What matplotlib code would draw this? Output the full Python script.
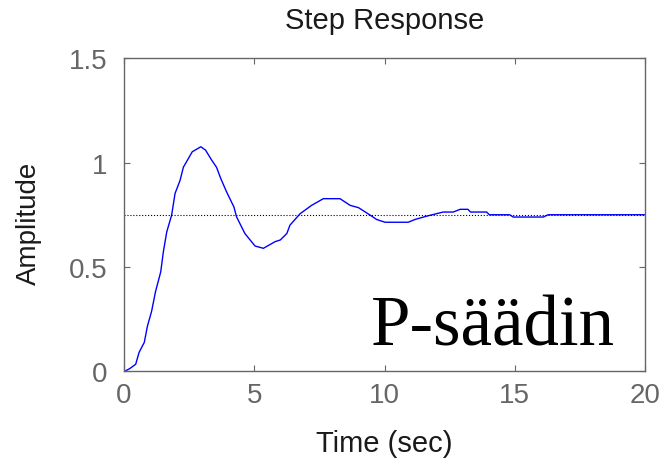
import matplotlib
matplotlib.use("Agg")
import matplotlib.pyplot as plt

# step response
t = [0.0, 0.04, 0.23, 0.45, 0.58, 0.78, 0.9, 1.06, 1.21, 1.41, 1.51, 1.64, 1.83,
     1.96, 2.15, 2.28, 2.62, 2.95, 3.13, 3.36, 3.55, 3.72, 3.94, 4.22, 4.32,
     4.64, 5.03, 5.35, 5.8, 6.0, 6.25, 6.37, 6.76, 7.2, 7.65, 8.29, 8.68, 9.0,
     9.45, 9.7, 10.02, 10.91, 11.16, 11.61, 12.25, 12.64, 12.9, 13.2, 13.3,
     13.92, 14.02, 14.8, 14.94, 16.09, 16.28, 20.0]
amp = [0.0, 0.0, 0.013, 0.033, 0.09, 0.138, 0.216, 0.287, 0.381, 0.476, 0.571,
       0.667, 0.749, 0.852, 0.914, 0.978, 1.052, 1.076, 1.06, 1.013, 0.978,
       0.922, 0.859, 0.787, 0.74, 0.66, 0.6, 0.589, 0.621, 0.629, 0.66, 0.70,
       0.755, 0.795, 0.827, 0.827, 0.795, 0.784, 0.748, 0.727, 0.714, 0.714,
       0.727, 0.743, 0.763, 0.763, 0.776, 0.776, 0.763, 0.763, 0.75, 0.75,
       0.739, 0.739, 0.75, 0.75]
steady_state = 0.75
xticks = [0, 5, 10, 15, 20]
yticks = [0, 0.5, 1, 1.5]
ytick_labels = ["0", "0.5", "1", "1.5"]

plt.rcParams['font.family'] = ['Liberation Sans', 'DejaVu Sans']
gray = '#666666'

fig = plt.figure(figsize=(6.63, 4.6), dpi=100)
ax = fig.add_axes([0.187, 0.191, 0.786, 0.68])

ax.plot(t, amp, color='#0000ff', lw=1.0)
ax.axhline(steady_state, color='black', lw=0.8, ls=':')

ax.set_xlim(0, 20)
ax.set_ylim(0, 1.5)
ax.set_xticks(xticks)
ax.set_yticks(yticks)
ax.set_yticklabels(ytick_labels)
ax.tick_params(direction='in', length=4, width=0.8, colors=gray, labelsize=20,
               top=True, right=True)
ax.tick_params(axis='y', pad=12)
ax.tick_params(axis='x', pad=8)
for s in ax.spines.values():
    s.set_color(gray)
    s.set_linewidth(1.0)

ax.set_title('Step Response', fontsize=21, pad=22, color='#1a1a1a')
ax.set_xlabel('Time (sec)', fontsize=21, labelpad=15, color='#1a1a1a')
ax.set_ylabel('Amplitude', fontsize=20, labelpad=19, color='#1a1a1a')
ax.yaxis.label.set_y(0.476)

ax.text(0.942, 0.086, 'P-säädin', transform=ax.transAxes, ha='right',
        va='baseline', fontsize=51, family='Liberation Serif')

fig.savefig('out.png', dpi=100)
